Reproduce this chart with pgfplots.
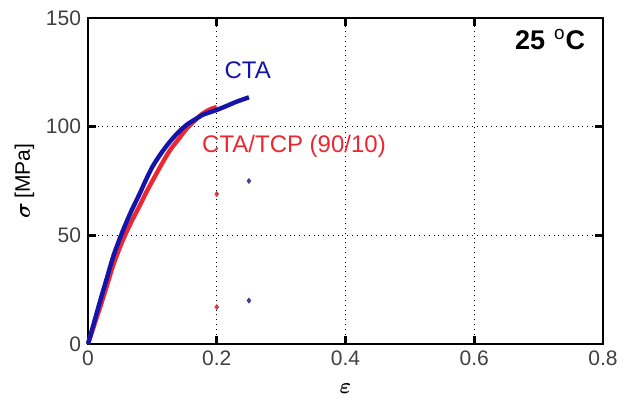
\documentclass[border=0pt]{standalone}
\usepackage{pgfplots}
\pgfplotsset{compat=1.18}
\usepackage{bm}
\usepackage{fontspec}
\setmainfont{Liberation Sans}
\definecolor{ctablue}{RGB}{20,20,170}
\definecolor{tcpred}{RGB}{235,40,50}
\begin{document}
\begin{tikzpicture}
\begin{axis}[
  scale only axis, width=257.5pt, height=163pt,
  xmin=0, xmax=0.8, ymin=0, ymax=150,
  xtick={0,0.2,0.4,0.6,0.8}, ytick={0,50,100,150},
  xticklabels={0,0.2,0.4,0.6,0.8},
  grid=major, grid style={black, dotted, line width=0.7pt},
  axis line style={line width=1.4pt},
  tick style={black, line width=1.4pt},
  major tick length=4pt, tick align=inside,
  xtick pos=both, ytick pos=both,
  ticklabel style={font=\fontsize{10.5}{12}\selectfont, text=black!75},
  /pgf/number format/assume math mode=true,
  xlabel={$\bm{\varepsilon}$}, ylabel={$\bm{\sigma}$\,[MPa]},
  label style={font=\fontsize{10.5}{12}\selectfont},
  xlabel style={yshift=-2pt},
  ylabel style={yshift=-1pt},
  clip=false,
]
\addplot[tcpred, line width=2.2pt, smooth] coordinates {
(0,0) (0.01,9) (0.02,18) (0.03,27.5) (0.04,37) (0.054,47.7) (0.067,56) (0.08,63.5) (0.09,69.5) (0.1,75) (0.113,82) (0.127,89) (0.14,94) (0.153,99) (0.166,102.8) (0.178,106) (0.19,108) (0.2,109)
};
\addplot[ctablue, line width=2.2pt, smooth] coordinates {
(0,0) (0.01,10.5) (0.02,21) (0.028,29) (0.04,41) (0.054,52) (0.067,61) (0.08,69) (0.09,75.5) (0.1,81.5) (0.113,87.5) (0.127,93) (0.14,97.3) (0.153,100.8) (0.166,103.3) (0.178,105.4) (0.19,106.7) (0.2,107.7) (0.215,109.5) (0.23,111.4) (0.25,113.5)
};
\addplot[only marks, mark=diamond*, mark size=1.2pt, color=tcpred!70!gray] coordinates {(0.2,69) (0.2,17)};
\addplot[only marks, mark=diamond*, mark size=1.2pt, color=ctablue!60!gray] coordinates {(0.25,75) (0.25,20)};
\node[text=ctablue, font=\fontsize{12}{14}\selectfont] at (axis cs:0.248,126) {CTA};
\node[text=tcpred, font=\fontsize{12}{14}\selectfont] at (axis cs:0.32,91) {CTA/TCP (90/10)};
\node[font=\bfseries\fontsize{13.5}{15}\selectfont] at (axis cs:0.718,140) {25\,\,$^{\mathrm{o}}$C};
\coordinate (bl) at (rel axis cs:-0.1709,-0.181);
\coordinate (tr) at (rel axis cs:1.0408,1.0552);
\end{axis}
\pgfresetboundingbox
\path (bl) rectangle (tr);
\end{tikzpicture}
\end{document}
